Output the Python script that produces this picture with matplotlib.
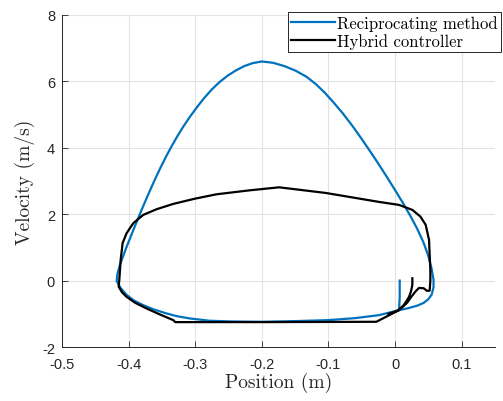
import matplotlib
matplotlib.use('Agg')
import matplotlib.pyplot as plt

# Reciprocating method (blue) phase trajectory
recip_pos = [0.007, 0.007, 0.006, -0.024, -0.06, -0.1, -0.15, -0.2, -0.245, -0.278,
             -0.308, -0.328, -0.343, -0.362, -0.378, -0.392, -0.403, -0.412, -0.418,
             -0.4168, -0.4135, -0.4085, -0.403, -0.397, -0.391, -0.3848, -0.3786,
             -0.3722, -0.3656, -0.3588, -0.3517, -0.3442, -0.3362, -0.3277, -0.3185,
             -0.3085, -0.2975, -0.2865, -0.275, -0.2635, -0.2515, -0.239, -0.2265,
             -0.2138, -0.2, -0.183, -0.166, -0.149, -0.133, -0.119, -0.1055, -0.0925,
             -0.079, -0.0655, -0.0523, -0.0393, -0.0263, -0.0135, -0.001, 0.0112,
             0.0227, 0.0333, 0.0425, 0.0497, 0.0549, 0.0578, 0.0578, 0.055, 0.05,
             0.043, 0.034, 0.02, 0.006]
recip_vel = [0.0, -0.5, -0.89, -1.04, -1.13, -1.19, -1.22, -1.24, -1.23, -1.21,
             -1.14, -1.07, -0.99, -0.87, -0.74, -0.6, -0.43, -0.22, -0.01,
             0.2, 0.45, 0.72, 1.02, 1.32, 1.62, 1.92, 2.22,
             2.52, 2.82, 3.12, 3.42, 3.72, 4.02, 4.32, 4.62,
             4.92, 5.22, 5.5, 5.76, 5.98, 6.17, 6.33, 6.46,
             6.55, 6.6, 6.56, 6.46, 6.32, 6.14, 5.92, 5.66, 5.37,
             5.05, 4.7, 4.33, 3.95, 3.56, 3.16, 2.76, 2.36,
             1.96, 1.56, 1.16, 0.76, 0.36, 0.02, -0.2, -0.42, -0.56,
             -0.67, -0.75, -0.83, -0.89]

# Hybrid controller (black) phase trajectory
hybrid_pos = [0.026, 0.026, 0.024, 0.021, 0.017, 0.013, 0.003, -0.028, -0.2, -0.33,
              -0.333, -0.353, -0.373, -0.39, -0.403, -0.41, -0.415, -0.414, -0.413,
              -0.412, -0.409, -0.403, -0.393, -0.378, -0.358, -0.333, -0.3, -0.268,
              -0.218, -0.174, -0.104, -0.024, 0.006, 0.026, 0.038, 0.046, 0.051,
              0.053, 0.053, 0.052, 0.048, 0.043, 0.036, 0.031, 0.024, 0.018, 0.006, -0.01]
hybrid_vel = [0.07, -0.13, -0.32, -0.49, -0.62, -0.74, -0.92, -1.24, -1.25, -1.25,
              -1.19, -1.02, -0.84, -0.67, -0.49, -0.35, -0.18, 0.02, 0.3,
              0.62, 1.13, 1.43, 1.73, 1.98, 2.15, 2.31, 2.47, 2.6,
              2.72, 2.81, 2.64, 2.37, 2.28, 2.13, 1.93, 1.68, 1.23,
              0.32, 0.0, -0.3, -0.31, -0.23, -0.22, -0.32, -0.5, -0.67, -0.89, -1.0]

x_ticks = [-0.5, -0.4, -0.3, -0.2, -0.1, 0, 0.1]
x_labels = ['-0.5', '-0.4', '-0.3', '-0.2', '-0.1', '0', '0.1']
y_ticks = [-2, 0, 2, 4, 6, 8]
y_labels = ['-2', '0', '2', '4', '6', '8']

dark = '#262626'
serif = {'family': 'cmr10', 'size': 14}

fig = plt.figure(figsize=(5.03, 4.02), dpi=100)
ax = fig.add_axes([0.1233, 0.1343, 0.8607, 0.8259])

ax.plot(recip_pos, recip_vel, color='#0072BD', linewidth=1.6, label='Reciprocating method')
ax.plot(hybrid_pos, hybrid_vel, color='black', linewidth=1.6, label='Hybrid controller')

ax.set_xlim(-0.5, 0.15)
ax.set_ylim(-2, 8)
ax.set_xticks(x_ticks)
ax.set_xticklabels(x_labels, family='Liberation Sans', fontsize=10.5, color=dark)
ax.set_yticks(y_ticks)
ax.set_yticklabels(y_labels, family='Liberation Sans', fontsize=10.5, color=dark)
ax.tick_params(direction='in', length=4, width=0.6, color=dark)
ax.tick_params(axis='x', pad=7)
ax.tick_params(axis='y', pad=5)

ax.grid(True, color='#e3e3e3', linewidth=0.8)
ax.set_axisbelow(True)
for side in ['top', 'right']:
    ax.spines[side].set_visible(False)
for side in ['left', 'bottom']:
    ax.spines[side].set_color(dark)
    ax.spines[side].set_linewidth(0.7)

ax.set_xlabel('Position (m)', fontdict=serif, color=dark, labelpad=1)
ax.set_ylabel('Velocity (m/s)', fontdict=serif, color=dark, labelpad=5)

leg = ax.legend(loc='upper right', bbox_to_anchor=(1.0145, 1.01), prop={'family': 'cmr10', 'size': 12},
                fancybox=False, framealpha=1, edgecolor=dark, handlelength=2.6,
                handletextpad=0.15, borderpad=0.2, labelspacing=0.15, borderaxespad=0)
leg.get_frame().set_linewidth(0.7)

fig.savefig('out.png', dpi=100)
